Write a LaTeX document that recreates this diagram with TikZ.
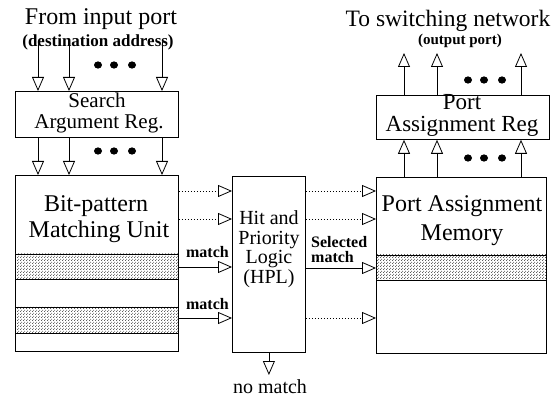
\documentclass[tikz,border=0pt]{standalone}
\usepackage{fontspec}
\setmainfont{Liberation Serif}
\usetikzlibrary{arrows.meta,patterns,calc}

% fine offset-dot stipple for the highlighted memory rows
\pgfdeclarepatternformonly{stipple}{\pgfqpoint{-0.75pt}{-0.75pt}}{\pgfqpoint{2.25pt}{2.25pt}}{\pgfqpoint{3pt}{3pt}}{%
  \pgfpathcircle{\pgfqpoint{0pt}{0pt}}{.6pt}%
  \pgfpathcircle{\pgfqpoint{1.5pt}{1.5pt}}{.6pt}%
  \pgfusepath{fill}}

\begin{document}
\begin{tikzpicture}[x=1pt,y=-1pt,
  box/.style={draw, line width=0.8pt, inner sep=0pt, fill=white, anchor=north west},
  arr/.style={line width=0.8pt, -{Triangle[open, length=14pt, width=12pt, line width=0.8pt]}},
  dotarr/.style={arr, dash pattern=on 1.2pt off 1.8pt},
  band/.style={draw, line width=0.8pt, pattern=stipple, pattern color=black!85},
  big/.style={font=\fontsize{24}{24}\selectfont, inner sep=0pt, anchor=base},
  mid/.style={font=\fontsize{21}{21}\selectfont, inner sep=0pt, anchor=base},
  hpltext/.style={font=\fontsize{20}{20}\selectfont, inner sep=0pt, anchor=base},
  lbl/.style={font=\bfseries\fontsize{16}{16}\selectfont, inner sep=0pt},
  ell/.style={fill=black}
]
\useasboundingbox (0,0) rectangle (560,398);

% ---- boxes ----
\node[box, minimum width=163pt, minimum height=46pt]  (sar)  at (15,91)  {};
\node[box, minimum width=163pt, minimum height=176pt] (bpmu) at (15,175) {};
\node[box, minimum width=73pt,  minimum height=176pt] (hpl)  at (232,176) {};
\node[box, minimum width=170pt, minimum height=176pt] (pam)  at (376,177) {};
\node[box, minimum width=173pt, minimum height=44pt]  (par)  at (376,95)  {};

% stippled rows
\draw[band] (bpmu.west |- 0,254) rectangle (bpmu.east |- 0,279);
\draw[band] (bpmu.west |- 0,307) rectangle (bpmu.east |- 0,333);
\draw[band] (pam.west |- 0,255) rectangle (pam.east |- 0,280);

% ---- titles ----
\node[big] (ttlIn)  at (101,25) {From input port};
\node[lbl, anchor=base, font=\bfseries\fontsize{17}{17}\selectfont] (subIn) at (98,47) {(destination address)};
\node[big, font=\fontsize{23.5}{23.5}\selectfont] (ttlOut) at (448,27) {To switching network};
\node[lbl, anchor=base, font=\bfseries\fontsize{15}{15}\selectfont] (subOut) at (460,45) {(output port)};

% ---- box texts ----
\node[mid] (sarA) at (97,108) {Search};
\node[mid] (sarB) at (99,129) {Argument Reg.};
\node[big] (bpA) at (96,212) {Bit-pattern};
\node[big] (bpB) at (99,238) {Matching Unit};
\node[hpltext] (hA) at (269,225) {Hit and};
\node[hpltext] (hB) at (269,245) {Priority};
\node[hpltext] (hC) at (269,264) {Logic};
\node[hpltext] (hD) at (269,284) {(HPL)};
\node[big] (pmA) at (462,212) {Port Assignment};
\node[big] (pmB) at (462,241) {Memory};
\node[big, font=\fontsize{23}{23}\selectfont] (prA) at (462,110) {Port};
\node[big, font=\fontsize{23}{23}\selectfont] (prB) at (462,132) {Assignment Reg};

% ---- input side ----
\foreach \i/\x in {1/38, 2/69, 3/162} {
  \coordinate (in\i) at (\x,42);
  \draw[arr] (in\i) -- (in\i |- sar.north);
  \draw[arr] (in\i |- sar.south) -- (in\i |- bpmu.north);
}
\foreach \x in {98,114,132} {
  \fill[ell] (\x,65) ellipse (4pt and 3.6pt);
  \fill[ell] (\x,151) ellipse (4pt and 3.6pt);
}

% ---- matching unit to HPL ----
\foreach \i/\y in {1/191, 2/219, 3/267, 4/318} \coordinate (r\i) at (0,\y);
\draw[dotarr] (bpmu.east |- r1) -- (hpl.west |- r1);
\draw[dotarr] (bpmu.east |- r2) -- (hpl.west |- r2);
\draw[arr] (bpmu.east |- r3) -- (hpl.west |- r3);
\draw[arr] (bpmu.east |- r4) -- (hpl.west |- r4);
\node[lbl, anchor=base east] (m1) at (229,258) {match};
\node[lbl, anchor=base east] (m2) at (229,310) {match};

% ---- HPL to port assignment memory ----
\coordinate (s3) at (0,268);
\draw[dotarr] (hpl.east |- r1) -- (pam.west |- r1);
\draw[dotarr] (hpl.east |- r2) -- (pam.west |- r2);
\draw[arr] (hpl.east |- s3) -- (pam.west |- s3);
\draw[dotarr] (hpl.east |- r4) -- (pam.west |- r4);
\node[lbl, anchor=base west] (sel1) at (311,248) {Selected};
\node[lbl, anchor=base west] (sel2) at (311,263) {match};

% ---- no match ----
\node[hpltext] (nomatch) at (270,393) {no match};
\draw[arr] (hpl.south) -- (hpl.south |- 0,375);

% ---- output side ----
\foreach \i/\x in {1/404, 2/437, 3/521} {
  \coordinate (out\i) at (\x,53);
  \draw[arr] (out\i |- pam.north) -- (out\i |- par.south);
  \draw[arr] (out\i |- par.north) -- (out\i);
}
\foreach \x in {468,484,502} {
  \fill[ell] (\x,80) ellipse (4pt and 3.6pt);
  \fill[ell] (\x,158) ellipse (4pt and 3.6pt);
}
\end{tikzpicture}
\end{document}
